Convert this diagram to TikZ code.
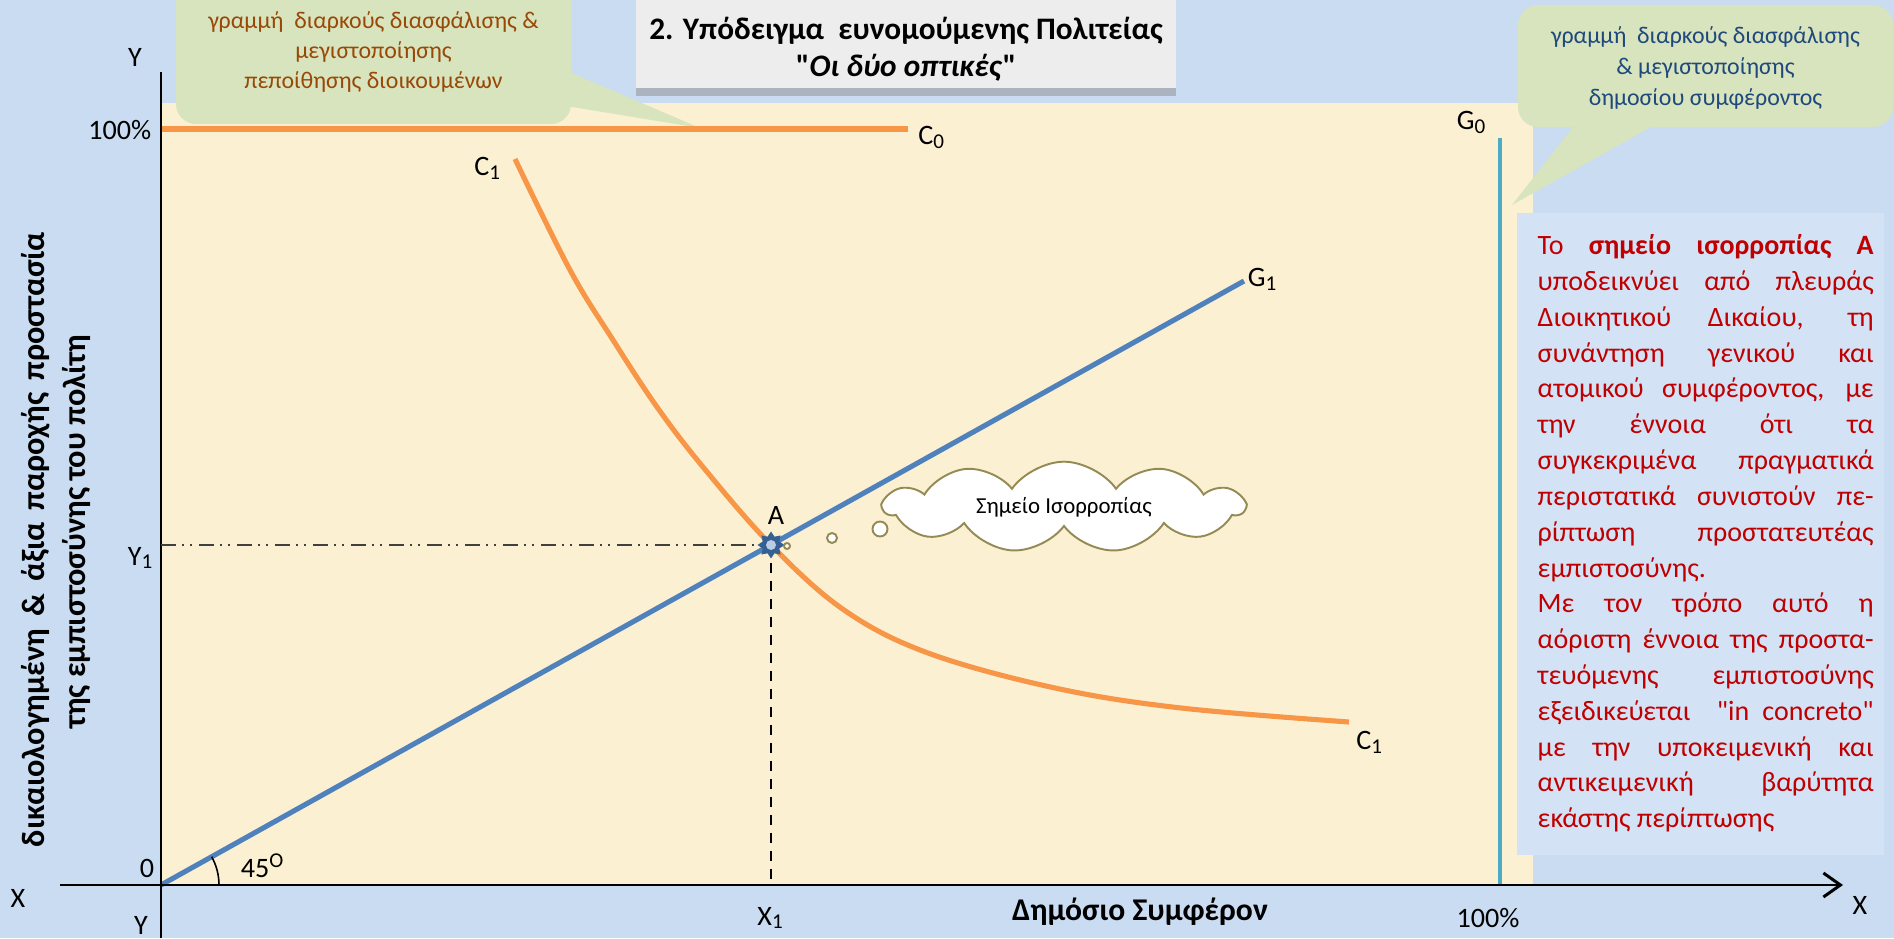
\documentclass[tikz,border=0pt]{standalone}
\usepackage{fontspec}
\setmainfont{Carlito}[Ligatures=TeXOff]
\usepackage{xcolor}
\usetikzlibrary{arrows.meta,shapes.geometric,shapes.symbols,shadows}
\definecolor{bgblue}{HTML}{C9DCF1}
\definecolor{cream}{HTML}{FCF0D3}
\definecolor{boxblue}{HTML}{D3E3F5}
\definecolor{callg}{HTML}{D7E4BD}
\definecolor{corange}{HTML}{F79646}
\definecolor{gblue}{HTML}{4F81BD}
\definecolor{gcyan}{HTML}{4BACC6}
\definecolor{txtred}{HTML}{C00000}
\definecolor{txtbrown}{HTML}{984807}
\definecolor{txtnavy}{HTML}{1F497D}
\definecolor{cloudedge}{HTML}{948A54}
\definecolor{stardark}{HTML}{376092}
\definecolor{starlight}{HTML}{B9CDE5}
\tikzset{
  ax/.style={line width=0.85pt,black},
  cc/.style={line width=1.45pt,corange},
  gg/.style={line width=1.45pt,gblue},
  gz/.style={line width=1.2pt,gcyan},
  prj/.style={line width=0.45pt,black,dash pattern=on 0.1cm off 0.08cm},
  prjy/.style={line width=0.45pt,black!75,dash pattern=on 0.15cm off 0.06cm on 0.02cm off 0.06cm on 0.02cm off 0.07cm},
  lbl/.style={font=\fontsize{8}{9.6}\selectfont,inner sep=0pt},
  call/.style={fill=callg,rounded corners=0.2cm,inner sep=0pt},
  calltxt/.style={align=center,inner sep=0pt,font=\fontsize{6.8}{8.4}\selectfont},
  bub/.style={draw=cloudedge,line width=0.55pt,fill=white},
  ylab/.style={rotate=90,inner sep=0pt,font=\bfseries\fontsize{9.2}{11}\selectfont}
}
\newcommand{\ix}[2]{#1\textsubscript{#2}}

\begin{document}
\begin{tikzpicture}
\useasboundingbox (0,0) rectangle (18.94,9.38);
\fill[bgblue] (0,0) rectangle (18.94,9.38);
\fill[cream] (1.61,0.53) rectangle (15.33,8.35);
\fill[boxblue] (15.17,0.83) rectangle (18.84,7.25);
% callouts and title
\node[call,minimum width=3.95cm,minimum height=1.44cm] (cleft) at (3.735,8.86) {};
\fill[callg] (5.60,8.70) -- (7.00,8.10) -- (5.60,8.33) -- cycle;
\node[calltxt,text=txtbrown] (cleftt) at (cleft) {γραμμή\ \ διαρκούς διασφάλισης \&\\ μεγιστοποίησης\\ πεποίθησης διοικουμένων};
\node[call,minimum width=3.75cm,minimum height=1.22cm] (cright) at (17.055,8.72) {};
\fill[callg] (15.80,8.20) -- (15.12,7.33) -- (16.67,8.20) -- cycle;
\node[calltxt,text=txtnavy,font=\fontsize{6.8}{8.9}\selectfont] (crightt) at ([yshift=-0.02cm]cright) {γραμμή\ \ διαρκούς διασφάλισης\\ \& μεγιστοποίησης\\ δημοσίου συμφέροντος};
\node[fill=gray!14,minimum width=5.40cm,minimum height=0.95cm,inner sep=0pt,
  drop shadow={shadow xshift=0cm,shadow yshift=-0.08cm,fill=black!45,opacity=0.5}] (ttlbox) at (9.06,8.975) {};
\node[align=center,inner sep=0pt,font=\bfseries\fontsize{8.9}{10.4}\selectfont] (ttl) at (9.06,8.89)
  {2. Υπόδειγμα\ \ ευνομούμενης Πολιτείας\\ "\textit{Οι δύο οπτικές}"};
% curves
\coordinate (O) at (1.61,0.53);
\coordinate (A) at (7.71,3.93);
\coordinate (G1end) at (12.44,6.57);
\draw[cc] (O |- 0,8.09) -- (9.08,8.09);
\draw[gz] (15.00,8.00) -- (15.00,0.53);
\draw[cc] plot[smooth,tension=0.6] coordinates {(5.15,7.79) (5.70,6.68) (6.13,5.98) (6.57,5.31) (7.03,4.71) (A) (8.44,3.28) (9.28,2.85) (10.55,2.50) (11.81,2.30) (13.49,2.16)};
\draw[gg] (O) -- (G1end);
% axes
\draw[ax] (1.61,0) -- (1.61,8.66);
\draw[ax,-{Straight Barb[length=0.17cm,width=0.24cm]}] (0.60,0.53) -- (18.43,0.53);
\draw[line width=0.45pt] ([xshift=0.58cm]O) arc[start angle=0,end angle=29.15,radius=0.58];
\draw[prjy] (O |- A) -- (A);
\draw[prj] (A) -- (A |- O);
% equilibrium point and cloud
\node[star,star points=8,star point ratio=1.5,minimum size=0.27cm,inner sep=0pt,fill=stardark] (Astar) at (A) {};
\fill[starlight] (A) circle (0.05);
\draw[bub] (7.87,3.92) circle (0.03);
\draw[bub] (8.32,4.00) circle (0.05);
\draw[bub] (8.80,4.09) circle (0.075);
\node[cloud,cloud puffs=11,cloud puff arc=110,aspect=4.4,draw=cloudedge,line width=0.55pt,fill=white,
  minimum width=3.6cm,minimum height=0.82cm,inner sep=0pt,font=\fontsize{6.5}{7.8}\selectfont] (cld) at (10.64,4.31) {Σημείο Ισορροπίας};
% labels
\node[lbl] (ytop) at (1.35,8.81) {Y};
\node[lbl,anchor=east] (yfull) at (1.52,8.08) {100\%};
\node[lbl] (yone) at (1.41,3.80) {\ix{Y}{1}};
\node[lbl] (zero) at (1.47,0.70) {0};
\node[lbl] (xleft) at (0.18,0.40) {X};
\node[lbl] (ybot) at (1.41,0.13) {Y};
\node[lbl] (xone) at (7.71,0.20) {\ix{X}{1}};
\node[lbl] (xfull) at (14.88,0.20) {100\%};
\node[inner sep=0pt,font=\bfseries\fontsize{9}{10.8}\selectfont] (xname) at (11.40,0.26) {Δημόσιο Συμφέρον};
\node[lbl] (xright) at (18.60,0.33) {X};
\node[lbl] (ang) at (2.63,0.72) {45\textsuperscript{O}};
\node[lbl] (Alab) at (7.76,4.23) {A};
\node[lbl] (cone) at (4.88,7.70) {\ix{C}{1}};
\node[lbl] (conb) at (13.70,1.96) {\ix{C}{1}};
\node[lbl] (czero) at (9.32,8.01) {\ix{C}{0}};
\node[lbl] (gone) at (12.63,6.59) {\ix{G}{1}};
\node[lbl] (gzero) at (14.72,8.16) {\ix{G}{0}};
\node[ylab] (ylabA) at (0.36,3.985) {\makebox[6.15cm][s]{δικαιολογημένη \& άξια παροχής προστασία}};
\node[ylab] (ylabB) at (0.76,4.06) {της εμπιστοσύνης του πολίτη};
% explanation
\node[anchor=north west,text width=3.36cm,align=justify,inner sep=0pt,text=txtred,
  font=\fontsize{7.97}{10.19}\selectfont] (expl) at (15.37,7.04)
{\parindent=0pt\hyphenpenalty=10000\exhyphenpenalty=10000\tolerance=10000
Το \textbf{σημείο ισορροπίας Α}\linebreak
υποδεικνύει από πλευράς\linebreak
Διοικητικού Δικαίου, τη\linebreak
συνάντηση γενικού και\linebreak
ατομικού συμφέροντος, με\linebreak
την έννοια ότι τα\linebreak
συγκεκριμένα πραγματικά\linebreak
περιστατικά συνιστούν πε-\linebreak
ρίπτωση προστατευτέας\linebreak
εμπιστοσύνης.\par
Με τον τρόπο αυτό η\linebreak
αόριστη έννοια της προστα-\linebreak
τευόμενης εμπιστοσύνης\linebreak
εξειδικεύεται\ \ "in concreto"\linebreak
με την υποκειμενική και\linebreak
αντικειμενική βαρύτητα\linebreak
εκάστης περίπτωσης};
\end{tikzpicture}
\end{document}
